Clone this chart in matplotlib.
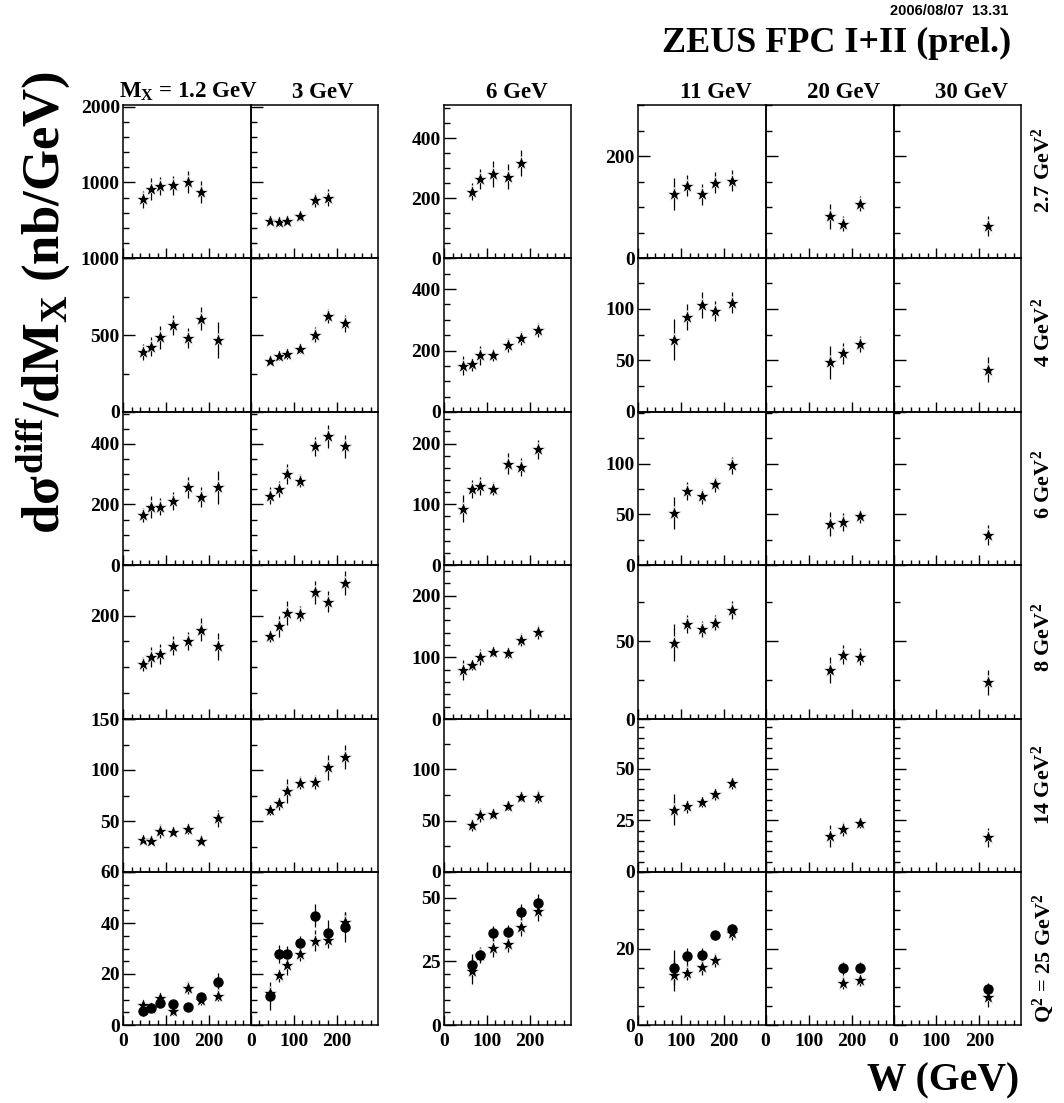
import matplotlib
matplotlib.use('Agg')
import matplotlib.pyplot as plt
from matplotlib.ticker import FixedLocator, MultipleLocator, NullFormatter, FixedFormatter

plt.rcParams['font.family'] = ['Liberation Serif', 'DejaVu Serif']
plt.rcParams['font.weight'] = 'bold'
plt.rcParams['mathtext.fontset'] = 'custom'
plt.rcParams['mathtext.rm'] = 'Liberation Serif:bold'
plt.rcParams['mathtext.it'] = 'Liberation Serif:bold'
plt.rcParams['mathtext.bf'] = 'Liberation Serif:bold'
plt.rcParams['mathtext.sf'] = 'Liberation Serif:bold'

# ---------------- data ----------------
MX_LABELS = [r'$\mathrm{M_X}$ = 1.2 GeV', '3 GeV', '6 GeV', '11 GeV', '20 GeV', '30 GeV']
Q2_LABELS = [r'2.7 GeV$^\mathrm{2}$', r'4 GeV$^\mathrm{2}$', r'6 GeV$^\mathrm{2}$',
             r'8 GeV$^\mathrm{2}$', r'14 GeV$^\mathrm{2}$', r'Q$^\mathrm{2}$ = 25 GeV$^\mathrm{2}$']

W_LOW = [45, 65, 85, 115, 150, 180, 220]
W_11 = [85, 115, 150, 180, 220]
W_20 = [150, 180, 220]
W_30 = [220]
W_COLS = [W_LOW, W_LOW, W_LOW, W_11, W_20, W_30]

# stars, one list per M_X column, aligned to W_COLS (None = no point)
q27_val = [[776, 912, 956, 960, 1009, 873, None], [496, 474, 496, 557, 768, 798, None],
           [None, 222, 264, 281, 272, 317, None], [126, 142, 125, 148, 152], [82, 68, 107], [63]]
q27_err = [[110, 150, 120, 120, 145, 150, None], [50, 45, 50, 50, 90, 110, None],
           [None, 28, 34, 44, 41, 42, None], [32, 21, 21, 20, 21], [25, 15, 15], [20]]

q4_val = [[389, 426, 485, 565, 483, 607, 470], [335, 367, 376, 411, 504, 624, 576],
          [151, 155, 184, 184, 218, 240, 266], [70, 92, 104, 98, 106], [48, 57, 66], [41]]
q4_err = [[51, 63, 72, 65, 65, 73, 117], [25, 30, 30, 30, 50, 45, 55],
          [30, 21, 30, 18, 22, 22, 22], [20, 12.5, 12.5, 10, 10], [15.6, 10, 7.5], [12]]

q6_val = [[164, 192, 193, 212, 257, 224, 256], [229, 251, 299, 278, 392, 425, 392],
          [93, 125, 130, 126, 167, 161, 191], [51.6, 72.7, 67.8, 79.6, 98.4], [40.8, 42.4, 48], [29.3]]
q6_err = [[23, 36, 29, 29, 35, 34, 54], [27, 27, 33, 22, 32, 38, 38],
          [22, 15, 15, 11.5, 17.5, 15, 15.6], [16, 9, 7.7, 7.7, 8.2], [12, 8.5, 6.6], [9.7]]

q8_val = [[106, 120, 126, 142, 151, 173, 141], [160, 179, 205, 204, 245, 227, 263],
          [79, 87, 100, 109, 107, 129, 141], [49, 61, 58, 62, 70], [31.5, 41.3, 40], [23.7]]
q8_err = [[14, 19, 20, 18, 18, 23, 26], [11, 20, 23, 14, 23, 20, 24],
          [16, 8, 13, 7, 8, 11, 11], [12, 6, 5, 5, 6], [8.6, 6, 5.6], [8]]

q14_val = [[31.5, 30.8, 40.3, 39, 41.9, 30.8, 52.6], [60.7, 67.2, 79.5, 87.7, 88, 102.6, 113],
           [None, 45.5, 55.5, 56.8, 64.6, 73.4, 73.4], [30.2, 31.8, 33.9, 37.5, 42.9], [17.5, 20.9, 23.7], [16.7]]
q14_err = [[2, 2, 6.5, 3, 5, 3, 8], [5, 6.5, 12, 6, 7, 12, 12],
           [None, 6, 6.5, 4, 4, 4.4, 6], [7.7, 3.2, 2.4, 2.7, 2.8], [5.3, 3.5, 2.2], [4.7]]

q25_val = [[7.8, 6.5, 10.5, 5.6, 14.6, 9.8, 11.5], [12.4, 19.5, 23.5, 27.8, 33.1, 33.3, 40.5],
           [None, 21.2, 27.3, 30.3, 31.6, 38.4, 44.9], [13, 13.7, 15.2, 17, 24.1], [None, 11.1, 11.7], [7.2]]
q25_err = [[2, 1.5, 2, 1.5, 2.5, 2, 2.2], [3, 2.6, 3.7, 2.6, 4.2, 3, 4],
           [None, 5, 3, 3.5, 3, 3.5, 4], [4, 2, 2, 1.8, 2], [None, 1.8, 1.6], [2.5]]

# filled circles (Q^2 = 25 only)
q25_dot_val = [[5.6, 6.8, 8.8, 8.4, 7.1, 10.8, 16.9], [11.5, 27.8, 27.8, 32, 42.9, 36.2, 38.6],
               [None, 23.4, 27.6, 36, 36.3, 44.3, 47.8], [15, 18, 18.2, 23.4, 25], [None, 14.8, 15], [9.5]]
q25_dot_err = [[2, 1, 1.5, 1.5, 1, 1.6, 3.4], [5.5, 3.5, 3, 2.9, 4.4, 4.9, 5.9],
               [None, 4.5, 3, 3, 3, 3, 3.5], [4.5, 2.2, 2, 1.3, 1.5], [None, 1.8, 1.6], [1.5]]

STAR_VALS = [q27_val, q4_val, q6_val, q8_val, q14_val, q25_val]
STAR_ERRS = [q27_err, q4_err, q6_err, q8_err, q14_err, q25_err]

# y axis ranges and ticks per row for the three column groups
YMAX_G1 = [2020, 1000, 505, 298, 150, 60]
YMAX_G2 = [510, 500, 252, 250, 149, 60]
YMAX_G3 = [300, 149, 151, 99, 74, 40]
YMAJ_G1 = [[0, 1000, 2000], [0, 500, 1000], [0, 200, 400], [0, 200], [0, 50, 100, 150], [0, 20, 40, 60]]
YMAJ_G2 = [[0, 200, 400], [0, 200, 400], [0, 100, 200], [0, 100, 200], [0, 50, 100], [0, 25, 50]]
YMAJ_G3 = [[0, 200], [0, 50, 100], [0, 50, 100], [0, 50], [0, 25, 50], [0, 20]]
YMIN_G1 = [200, 250, 50, 50, 25, 5]
YMIN_G2 = [50, 50, 20, 20, 25, 5]
YMIN_G3 = [50, 25, 25, 25, 5, 5]
XMAJ = [0, 100, 200]
XTICKLABELS = ['0', '100', '200']

# ---------------- layout ----------------
FW, FH = 1064, 1103
fig = plt.figure(figsize=(FW / 100, FH / 100), dpi=100)

COL_EDGES = [(123.3, 250.7), (250.7, 378.3), (444, 571), (638, 765.5), (765.5, 893.5), (893.5, 1021)]
ROW_EDGES = [(105, 258.3), (258.3, 412), (412, 565), (565, 719), (719, 872), (872, 1025)]
GROUP = [0, 0, 1, 2, 2, 2]
LABELLED_COL = [True, False, True, True, False, False]


def fx(px):
    return px / FW


def fy(py):
    return 1 - py / FH


def clean(xs, ys, es):
    out = [(x, y, e) for x, y, e in zip(xs, ys, es) if y is not None]
    return [o[0] for o in out], [o[1] for o in out], [o[2] for o in out]


for r in range(6):
    for c in range(6):
        x0, x1 = COL_EDGES[c]
        ytop, ybot = ROW_EDGES[r]
        ax = fig.add_axes([fx(x0), fy(ybot), (x1 - x0) / FW, (ybot - ytop) / FH])
        g = GROUP[c]
        ymax = [YMAX_G1, YMAX_G2, YMAX_G3][g][r]
        ymaj = [YMAJ_G1, YMAJ_G2, YMAJ_G3][g][r]
        ymin = [YMIN_G1, YMIN_G2, YMIN_G3][g][r]
        ax.set_xlim(0, 297)
        ax.set_ylim(0, ymax)

        xs, ys, es = clean(W_COLS[c], STAR_VALS[r][c], STAR_ERRS[r][c])
        if xs:
            ax.errorbar(xs, ys, yerr=es, fmt='none', ecolor='black', elinewidth=0.9,
                        capsize=0, zorder=2)
            ax.plot(xs, ys, linestyle='none', marker='*', markersize=10.5,
                    markerfacecolor='black', markeredgecolor='white', markeredgewidth=0.5, zorder=3)
        if r == 5:
            xs, ys, es = clean(W_COLS[c], q25_dot_val[c], q25_dot_err[c])
            ax.errorbar(xs, ys, yerr=es, fmt='none', ecolor='black', elinewidth=0.9,
                        capsize=0, zorder=2)
            ax.plot(xs, ys, linestyle='none', marker='o', markersize=6.5,
                    markerfacecolor='black', markeredgecolor='black', zorder=4)

        ax.yaxis.set_major_locator(FixedLocator(ymaj))
        ax.yaxis.set_minor_locator(MultipleLocator(ymin))
        ax.xaxis.set_major_locator(FixedLocator(XMAJ))
        ax.xaxis.set_minor_locator(MultipleLocator(20))
        ax.yaxis.set_minor_formatter(NullFormatter())
        ax.xaxis.set_minor_formatter(NullFormatter())
        if LABELLED_COL[c]:
            labels = [str(v) for v in ymaj]
            # the "0" here sits exactly under the top label of the panel below
            if r < 5 and g == 0 and YMAJ_G1[r + 1][-1] >= YMAX_G1[r + 1] - 1:
                labels[0] = ''
            ax.yaxis.set_major_formatter(FixedFormatter(labels))
        else:
            ax.yaxis.set_major_formatter(NullFormatter())
        if r == 5:
            ax.xaxis.set_major_formatter(FixedFormatter(XTICKLABELS))
        else:
            ax.xaxis.set_major_formatter(NullFormatter())

        ax.tick_params(axis='both', which='both', direction='in', top=False, right=False,
                       width=1.0, colors='black')
        ax.tick_params(axis='y', which='major', length=8.6, pad=2.5, labelsize=14)
        ax.tick_params(axis='y', which='minor', length=4.3)
        ax.tick_params(axis='x', which='major', length=7.2, pad=6, labelsize=14)
        ax.tick_params(axis='x', which='minor', length=3.6)
        for lab in ax.get_xticklabels() + ax.get_yticklabels():
            lab.set_fontweight('bold')
        for sp in ax.spines.values():
            sp.set_linewidth(1.1)
        ax.patch.set_alpha(0)

# column titles
TITLE_X = [188, 323, 516.7, 716, 844, 971.5]
for c in range(6):
    fig.text(fx(TITLE_X[c]), fy(98), MX_LABELS[c], ha='center', va='baseline',
             fontsize=16.5, fontweight='bold')

# row labels (right side)
ROWLAB_Y = [170, 332, 484, 637.5, 785, 958]
for r in range(6):
    fig.text(fx(1043), fy(ROWLAB_Y[r]), Q2_LABELS[r], ha='center', va='center',
             rotation=90, fontsize=16, fontweight='bold')

# headers
fig.text(fx(1011), fy(52), 'ZEUS FPC I+II (prel.)', ha='right', va='baseline',
         fontsize=26, fontweight='bold')
fig.text(fx(1008), fy(15), '2006/08/07  13.31', ha='right', va='baseline',
         fontsize=10.5, family=['Liberation Sans', 'DejaVu Sans'], fontweight='bold')
fig.text(fx(44), fy(302), r'd$\sigma^{\mathrm{diff}}$/dM$_\mathrm{X}$ (nb/GeV)',
         ha='center', va='center', rotation=90, fontsize=38, fontweight='bold')
fig.text(fx(1019), fy(1090), 'W (GeV)', ha='right', va='baseline',
         fontsize=28.5, fontweight='bold')

fig.savefig('out.png', dpi=100)
